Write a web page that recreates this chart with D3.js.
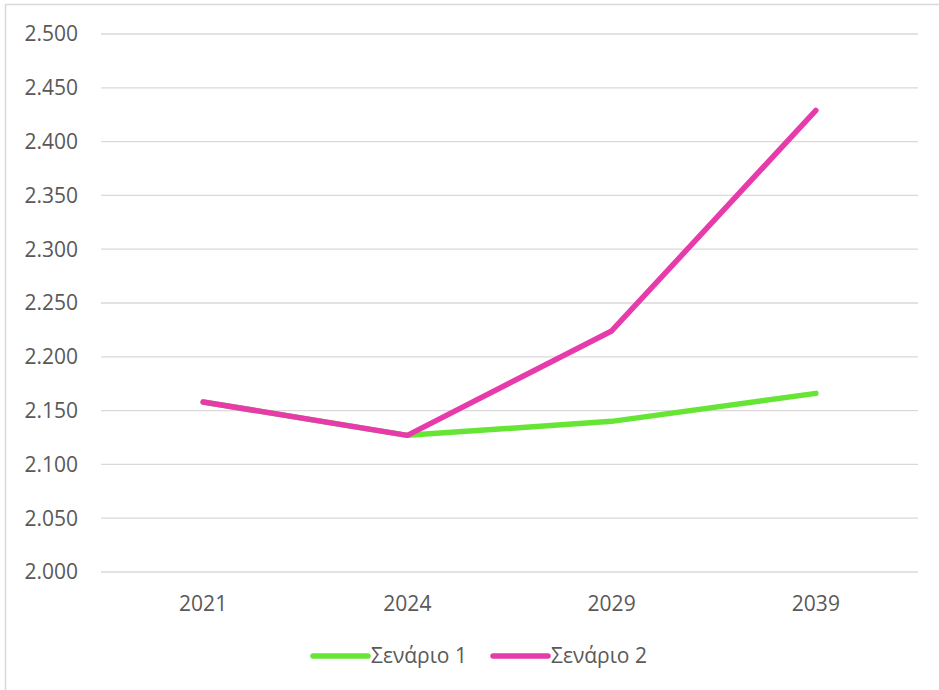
<!DOCTYPE html>
<html>
<head>
<meta charset="utf-8">
<script src="https://cdn.jsdelivr.net/npm/d3@7"></script>
<style>
  body { margin: 0; background: #fff; }
  text { font-family: "Open Sans", "Noto Sans", sans-serif; fill: #595959; }
</style>
</head>
<body>
<svg></svg>
<script>
var WIDTH = 939;
var HEIGHT = 690;

var years = ["2021", "2024", "2029", "2039"];
var scenario1 = [2158, 2127, 2140, 2166];
var scenario2 = [2158, 2127, 2224, 2429];
var seriesNames = ["Σενάριο 1", "Σενάριο 2"];
var seriesColors = ["#66e534", "#e73bab"];
var yTicks = [2000, 2050, 2100, 2150, 2200, 2250, 2300, 2350, 2400, 2450, 2500];

var svg = d3.select("svg")
    .attr("width", WIDTH)
    .attr("height", HEIGHT);

// chart border
svg.append("rect")
    .attr("x", 5.5).attr("y", 4.5)
    .attr("width", 940).attr("height", 700)
    .attr("fill", "none")
    .attr("stroke", "#d9d9d9")
    .attr("stroke-width", 1.5);

var x = d3.scaleBand().domain(years).range([101, 918]);
var y = d3.scaleLinear().domain([2000, 2500]).range([572, 34]);

var fmt = function(d) { return d3.format(",")(d).replace(",", "."); };

// grid
svg.append("g")
    .selectAll("line")
    .data(yTicks)
    .enter()
    .append("line")
    .attr("x1", 101).attr("x2", 918)
    .attr("y1", function(d) { return y(d); })
    .attr("y2", function(d) { return y(d); })
    .attr("stroke", "#d9d9d9")
    .attr("stroke-width", 1.3);

// y labels
svg.append("g")
    .selectAll("text")
    .data(yTicks)
    .enter()
    .append("text")
    .attr("x", 78)
    .attr("y", function(d) { return y(d); })
    .attr("dy", "0.35em")
    .attr("text-anchor", "end")
    .attr("font-size", 21)
    .text(fmt);

// x labels
svg.append("g")
    .selectAll("text")
    .data(years)
    .enter()
    .append("text")
    .attr("x", function(d) { return x(d) + x.bandwidth() / 2; })
    .attr("y", 604)
    .attr("dy", "0.35em")
    .attr("text-anchor", "middle")
    .attr("font-size", 21)
    .text(function(d) { return d; });

var line = d3.line()
    .x(function(d, i) { return x(years[i]) + x.bandwidth() / 2; })
    .y(function(d) { return y(d); });

[scenario1, scenario2].forEach(function(s, i) {
    svg.append("path")
        .datum(s)
        .attr("d", line)
        .attr("fill", "none")
        .attr("stroke", seriesColors[i])
        .attr("stroke-width", 5.5)
        .attr("stroke-linecap", "round")
        .attr("stroke-linejoin", "round");
});

// legend
var legendX = [313, 493];
var leg = svg.append("g")
    .selectAll("g")
    .data(seriesNames)
    .enter()
    .append("g")
    .attr("transform", function(d, i) { return "translate(" + legendX[i] + ",656)"; });

leg.append("line")
    .attr("x1", 0).attr("x2", 55)
    .attr("stroke", function(d, i) { return seriesColors[i]; })
    .attr("stroke-width", 5.5)
    .attr("stroke-linecap", "round");

leg.append("text")
    .attr("x", 58)
    .attr("dy", "0.35em")
    .attr("font-size", 21)
    .text(function(d) { return d; });
</script>
</body>
</html>
